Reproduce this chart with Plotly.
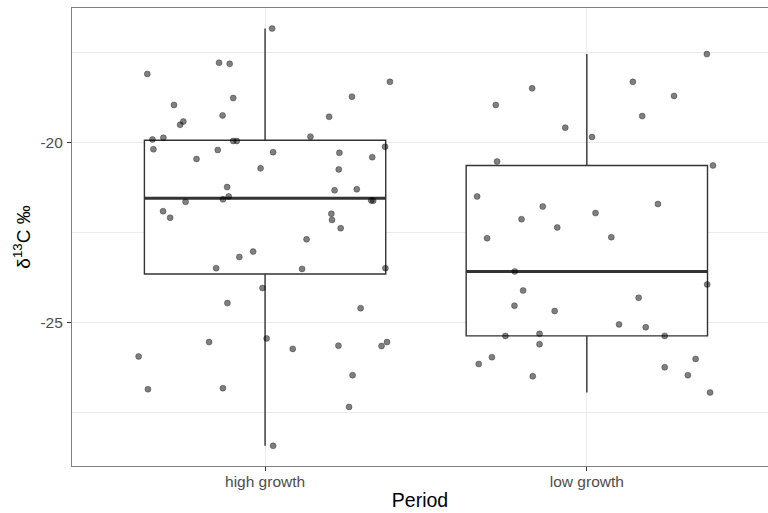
import plotly.graph_objects as go

# Categories on the x axis
periods = ["high growth", "low growth"]

# y-axis tick values and their labels (plain hyphen minus)
y_ticks = [-25, -20]
y_tick_labels = ["-25", "-20"]
y_minor_ticks = [-27.5, -22.5, -17.5]

# Boxplot summary statistics (δ13C, ‰) per period
q1 = [-23.65, -25.37]
median = [-21.55, -23.58]
q3 = [-19.94, -20.64]
lower_whisker = [-28.42, -26.94]
upper_whisker = [-16.84, -17.55]

# Individual observations: horizontal jitter offset and δ13C value
high_jitter = [-0.366, -0.143, -0.110, -0.099, -0.283, -0.132, -0.254, -0.264, -0.350, -0.316,
               -0.099, -0.088, -0.347, -0.147, -0.213, -0.014, -0.118, -0.131, -0.113, -0.247,
               -0.317, -0.295, -0.080, -0.037, 0.022, 0.388, 0.270, 0.199, 0.141, 0.373,
               0.025, 0.231, 0.333, 0.229, 0.216, 0.285, 0.336, 0.330, 0.206, 0.208,
               0.235, 0.129, -0.152, -0.008, -0.117, -0.174, -0.393, -0.364, -0.131, 0.115,
               0.374, 0.297, 0.005, 0.086, 0.228, 0.362, 0.379, 0.272, 0.261, 0.025]
high_d13c = [-18.10, -17.79, -17.82, -18.77, -18.96, -19.25, -19.42, -19.51, -19.92, -19.87,
             -19.96, -19.96, -20.19, -20.21, -20.46, -20.72, -21.24, -21.58, -21.50, -21.65,
             -21.91, -22.09, -23.18, -23.03, -16.84, -18.32, -18.73, -19.29, -19.84, -20.12,
             -20.27, -20.29, -20.41, -20.75, -21.33, -21.30, -21.62, -21.61, -21.98, -22.15,
             -22.38, -22.69, -23.49, -24.04, -24.46, -25.54, -25.94, -26.85, -26.82, -23.51,
             -23.49, -24.60, -25.44, -25.73, -25.64, -25.65, -25.54, -26.46, -27.34, -28.42]

low_jitter = [-0.283, -0.279, -0.341, -0.310, -0.224, -0.170, -0.067, 0.016, 0.143, 0.271,
              0.172, 0.373, 0.392, -0.137, -0.203, -0.092, 0.027, 0.221, 0.076, -0.198,
              -0.225, -0.100, -0.253, -0.147, -0.147, -0.168, 0.100, 0.161, 0.183, 0.242,
              0.374, 0.242, 0.338, 0.314, 0.383, -0.336, -0.295]
low_d13c = [-18.96, -20.53, -21.50, -22.66, -23.58, -18.50, -19.59, -19.85, -18.32, -18.71,
            -19.27, -17.55, -20.64, -21.78, -22.13, -22.36, -21.96, -21.71, -22.63, -24.11,
            -24.53, -24.68, -25.37, -25.31, -25.60, -26.49, -25.05, -24.31, -25.13, -25.37,
            -23.94, -26.24, -26.01, -26.46, -26.94, -26.15, -25.96]

BOX_WIDTH = 0.75
positions = [i + 1 for i in range(len(periods))]
INK = "#333333"

fig = go.Figure()

fig.add_trace(go.Box(
    x=positions, q1=q1, median=median, q3=q3,
    lowerfence=lower_whisker, upperfence=upper_whisker,
    width=BOX_WIDTH, whiskerwidth=0, boxpoints=False,
    fillcolor="white", line=dict(color=INK, width=1.4),
    hoverinfo="skip", showlegend=False,
))

# Thicker median bars, spanning the box width
med_x, med_y = [], []
for p, m in zip(positions, median):
    med_x += [p - BOX_WIDTH / 2, p + BOX_WIDTH / 2, None]
    med_y += [m, m, None]
fig.add_trace(go.Scatter(x=med_x, y=med_y, mode="lines",
                         line=dict(color=INK, width=3), showlegend=False, hoverinfo="skip"))

# Jittered observations
for pos, jit, vals in [(positions[0], high_jitter, high_d13c), (positions[1], low_jitter, low_d13c)]:
    fig.add_trace(go.Scatter(
        x=[pos + j for j in jit], y=vals, mode="markers",
        marker=dict(size=6, color="rgba(0,0,0,0.5)",
                    line=dict(color="rgba(0,0,0,0.3)", width=1)),
        showlegend=False,
    ))

FONT = "Liberation Sans, Arial, sans-serif"
fig.update_layout(
    width=768, height=513,
    margin=dict(l=72, r=0, t=8, b=47),
    paper_bgcolor="white", plot_bgcolor="white",
    font=dict(family=FONT),
    xaxis=dict(
        range=[0.4, 2.563], tickmode="array", tickvals=positions, ticktext=periods,
        showgrid=True, gridcolor="#EBEBEB", gridwidth=1.1,
        zeroline=False, showline=True, mirror=True, linecolor="#7F7F7F", linewidth=1.2,
        ticks="outside", ticklen=4, tickcolor=INK, tickwidth=1,
        tickfont=dict(size=15.5, color="#4D4D4D", family=FONT), ticklabelstandoff=-3,
        title=dict(text="Period", font=dict(size=19.5, color="black", family=FONT), standoff=4),
        automargin=False,
    ),
    yaxis=dict(
        range=[-28.98, -16.27], tickmode="array", tickvals=y_ticks, ticktext=y_tick_labels,
        showgrid=True, gridcolor="#EBEBEB", gridwidth=1.1,
        minor=dict(tickmode="array", tickvals=y_minor_ticks, showgrid=True,
                   gridcolor="#EBEBEB", gridwidth=0.6, ticks=""),
        zeroline=False, showline=True, mirror=False, linecolor="#7F7F7F", linewidth=1.2,
        ticks="outside", ticklen=4, tickcolor=INK, tickwidth=1,
        tickfont=dict(size=15.5, color="#4D4D4D", family=FONT), ticklabelstandoff=1,
        title=dict(text="δ<sup>13</sup>C ‰", font=dict(size=19, color="black", family=FONT), standoff=4),
        automargin=False,
    ),
)

fig.write_html("out.html")
